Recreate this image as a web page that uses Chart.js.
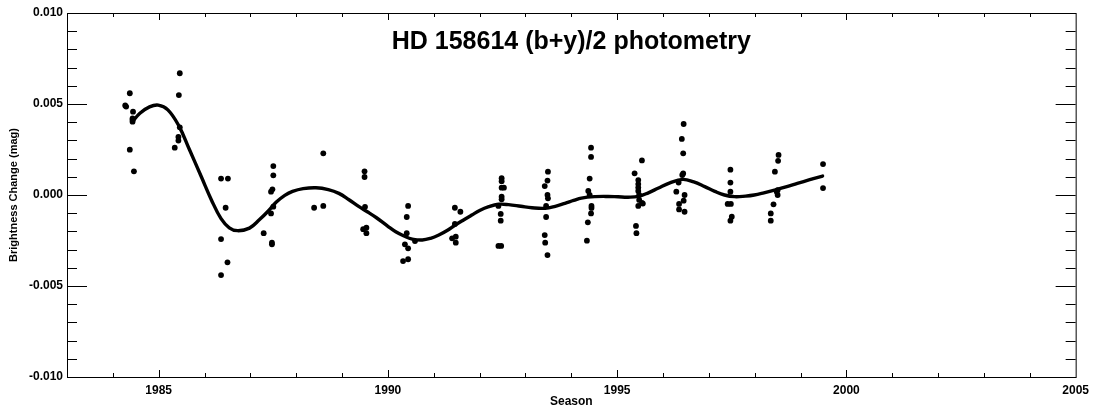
<!DOCTYPE html>
<html>
<head>
<meta charset="utf-8">
<title>HD 158614 (b+y)/2 photometry</title>
<script src="https://cdn.jsdelivr.net/npm/chart.js@4.4.1/dist/chart.umd.min.js"></script>
<style>
    html, body { margin: 0; padding: 0; background: #fff; }
    #chart { display: block; }
</style>
</head>
<body>
<canvas id="chart" width="1095" height="414"></canvas>
<script>
(function () {
    'use strict';

    // =========================================================================
    // Data
    // =========================================================================

    // Individual seasonal observations (year, mag)
    var obsYears = [
        1984.27, 1984.29, 1984.37, 1984.44, 1984.43, 1984.43, 1984.43, 1984.37, 1984.46,
        1985.46, 1985.44, 1985.46, 1985.43, 1985.43, 1985.35,
        1986.36, 1986.51, 1986.46, 1986.36, 1986.50, 1986.36,
        1987.50, 1987.50, 1987.48, 1987.45, 1987.50, 1987.45, 1987.29, 1987.47, 1987.47,
        1988.59, 1988.39, 1988.59,
        1989.49, 1989.49, 1989.46, 1989.53, 1989.53, 1989.50,
        1990.44, 1990.41, 1990.41, 1990.37, 1990.44, 1990.33, 1990.44, 1990.59,
        1991.46, 1991.58, 1991.46, 1991.40, 1991.48, 1991.48,
        1992.48, 1992.48, 1992.48, 1992.53, 1992.48, 1992.48, 1992.41, 1992.46, 1992.46, 1992.41, 1992.47,
        1993.49, 1993.48, 1993.42, 1993.48, 1993.49, 1993.45, 1993.45, 1993.42, 1993.43, 1993.48,
        1994.43, 1994.43, 1994.40, 1994.37, 1994.40, 1994.44, 1994.44, 1994.43, 1994.36, 1994.34,
        1995.54, 1995.38, 1995.46, 1995.46, 1995.46, 1995.46, 1995.48, 1995.48, 1995.54, 1995.46, 1995.56, 1995.41, 1995.42,
        1996.45, 1996.41, 1996.44, 1996.44, 1996.42, 1996.34, 1996.29, 1996.47, 1996.45, 1996.35, 1996.35, 1996.47,
        1997.47, 1997.47, 1997.47, 1997.41, 1997.48, 1997.50, 1997.47,
        1998.52, 1998.51, 1998.44, 1998.50, 1998.48, 1998.50, 1998.41, 1998.35, 1998.35,
        1999.49, 1999.49
    ];
    var obsMag = [
        0.00492, 0.00486, 0.00559, 0.00458, 0.00421, 0.00412, 0.00403, 0.00249, 0.00130,
        0.00669, 0.00549, 0.00372, 0.00319, 0.00299, 0.00260,
        0.00090, 0.00090, -0.00070, -0.00242, -0.00370, -0.00440,
        0.00159, 0.00108, 0.00031, 0.00018, -0.00064, -0.00101, -0.00210, -0.00262, -0.00271,
        0.00229, -0.00070, -0.00060,
        0.00130, 0.00099, -0.00188, -0.00180, -0.00210, -0.00065,
        -0.00060, -0.00121, -0.00210, -0.00271, -0.00293, -0.00363, -0.00353, -0.00253,
        -0.00070, -0.00092, -0.00159, -0.00238, -0.00229, -0.00262,
        0.00092, 0.00076, 0.00040, 0.00040, -0.00009, -0.00024, -0.00060, -0.00104, -0.00141, -0.00280, -0.00280,
        0.00128, 0.00079, 0.00049, 0.00000, -0.00018, -0.00060, -0.00121, -0.00220, -0.00262, -0.00330,
        0.00260, 0.00209, 0.00090, 0.00022, 0.00000, -0.00060, -0.00071, -0.00101, -0.00150, -0.00251,
        0.00190, 0.00119, 0.00082, 0.00060, 0.00041, 0.00022, 0.00000, -0.00027, -0.00044, -0.00060, -0.00047, -0.00170, -0.00210,
        0.00390, 0.00308, 0.00229, 0.00118, 0.00110, 0.00068, 0.00018, 0.00000, -0.00031, -0.00049, -0.00079, -0.00092,
        0.00139, 0.00068, 0.00018, -0.00049, -0.00049, -0.00119, -0.00141,
        0.00220, 0.00188, 0.00128, 0.00027, 0.00018, 0.00000, -0.00051, -0.00101, -0.00141,
        0.00170, 0.00038
    ];

    // Smoothed fit through the seasons
    var fitYears = [
        1984.42, 1984.59, 1984.80, 1984.99, 1985.20, 1985.44, 1985.67, 1985.93,
        1986.15, 1986.36, 1986.54, 1986.72, 1986.98, 1987.20, 1987.40, 1987.56,
        1987.75, 1987.92, 1988.15, 1988.43, 1988.70, 1988.93, 1989.15, 1989.37,
        1989.55, 1989.75, 1990.00, 1990.17, 1990.35, 1990.53, 1990.75, 1990.93,
        1991.11, 1991.30, 1991.47, 1991.65, 1991.83, 1992.00, 1992.20, 1992.41,
        1992.63, 1992.90, 1993.14, 1993.43, 1993.65, 1993.86, 1994.05, 1994.22,
        1994.52, 1994.80, 1995.02, 1995.24, 1995.46, 1995.68, 1995.89, 1996.15,
        1996.43, 1996.67, 1996.91, 1997.13, 1997.34, 1997.56, 1997.80, 1997.99,
        1998.20, 1998.43, 1998.70, 1998.93, 1999.20, 1999.48
    ];
    var fitMag = [
        0.00400, 0.00449, 0.00484, 0.00494, 0.00468, 0.00380, 0.00250, 0.00100,
        -0.00027, -0.00130, -0.00180, -0.00196, -0.00182, -0.00135, -0.00085, -0.00040,
        -0.00002, 0.00020, 0.00035, 0.00040, 0.00030, 0.00009, -0.00026, -0.00064,
        -0.00092, -0.00125, -0.00172, -0.00202, -0.00225, -0.00242, -0.00247, -0.00238,
        -0.00220, -0.00194, -0.00165, -0.00137, -0.00110, -0.00085, -0.00064, -0.00051,
        -0.00053, -0.00062, -0.00070, -0.00073, -0.00062, -0.00046, -0.00030, -0.00017,
        -0.00009, -0.00008, -0.00010, -0.00012, -0.00008, 0.00012, 0.00037, 0.00067,
        0.00086, 0.00072, 0.00046, 0.00020, 0.00000, -0.00009, -0.00006, 0.00000,
        0.00012, 0.00027, 0.00046, 0.00064, 0.00084, 0.00104
    ];

    var xTickLabels = [1985, 1990, 1995, 2000, 2005];
    var yTickLabels = [-0.010, -0.005, 0.000, 0.005, 0.010];

    var FONT = '"Liberation Sans", Arial, Helvetica, sans-serif';

    function toPoints(xs, ys) {
        return xs.map(function (x, i) { return { x: x, y: ys[i] }; });
    }

    // =========================================================================
    // Frame, inward ticks and title
    // =========================================================================

    var frameAndTitle = {
        id: 'frameAndTitle',
        afterDraw: function (chart) {
            var ctx = chart.ctx;
            var area = chart.chartArea;
            var xs = chart.scales.x;
            var ys = chart.scales.y;
            var i, px, py, len;

            ctx.save();
            ctx.strokeStyle = '#000';
            ctx.lineWidth = 1;

            ctx.strokeRect(area.left + 0.5, area.top + 0.5,
                area.right - area.left, area.bottom - area.top);

            ctx.beginPath();
            // one tick per year, longer every five
            for (i = 1984; i < 2005; i++) {
                px = Math.round(xs.getPixelForValue(i)) + 0.5;
                len = (i % 5 === 0) ? 7 : 4;
                ctx.moveTo(px, area.bottom);
                ctx.lineTo(px, area.bottom - len);
                ctx.moveTo(px, area.top);
                ctx.lineTo(px, area.top + len);
            }
            // one tick per 0.001 mag, longer every 0.005
            for (i = -9; i < 10; i++) {
                py = Math.round(ys.getPixelForValue(i / 1000)) + 0.5;
                len = (i % 5 === 0) ? 20 : 10;
                ctx.moveTo(area.left, py);
                ctx.lineTo(area.left + len, py);
                ctx.moveTo(area.right, py);
                ctx.lineTo(area.right - len, py);
            }
            ctx.stroke();

            ctx.fillStyle = '#000';
            ctx.font = 'bold 25px ' + FONT;
            ctx.textAlign = 'center';
            ctx.textBaseline = 'alphabetic';
            ctx.fillText('HD 158614 (b+y)/2 photometry', (area.left + area.right) / 2, 49);
            ctx.restore();
        }
    };

    // =========================================================================
    // Chart
    // =========================================================================

    new Chart(document.getElementById('chart'), {
        type: 'scatter',
        data: {
            datasets: [{
                label: 'fit',
                data: toPoints(fitYears, fitMag),
                showLine: true,
                borderColor: '#000',
                borderWidth: 3.4,
                tension: 0.4,
                borderCapStyle: 'round',
                borderJoinStyle: 'round',
                pointRadius: 0,
                fill: false
            }, {
                label: 'observations',
                data: toPoints(obsYears, obsMag),
                backgroundColor: '#000',
                borderColor: '#000',
                borderWidth: 0,
                pointRadius: 2.9
            }]
        },
        options: {
            responsive: false,
            animation: false,
            devicePixelRatio: 1,
            layout: { padding: { top: 13, right: 17, left: 0, bottom: 0 } },
            plugins: {
                legend: { display: false },
                tooltip: { enabled: false }
            },
            scales: {
                x: {
                    type: 'linear',
                    min: 1983,
                    max: 2005,
                    afterBuildTicks: function (scale) {
                        scale.ticks = xTickLabels.map(function (v) { return { value: v }; });
                    },
                    afterFit: function (scale) { scale.height = 37; },
                    grid: { display: false, drawTicks: false },
                    border: { display: false },
                    ticks: {
                        padding: 6,
                        maxRotation: 0,
                        color: '#000',
                        font: { family: FONT, size: 12, weight: 'bold' },
                        callback: function (v) { return String(v); }
                    },
                    title: {
                        display: true,
                        text: 'Season',
                        color: '#000',
                        padding: { top: 0, bottom: 5 },
                        font: { family: FONT, size: 12, weight: 'bold' }
                    }
                },
                y: {
                    type: 'linear',
                    min: -0.010,
                    max: 0.010,
                    afterBuildTicks: function (scale) {
                        scale.ticks = yTickLabels.map(function (v) { return { value: v }; });
                    },
                    afterFit: function (scale) { scale.width = 67; },
                    grid: { display: false, drawTicks: false },
                    border: { display: false },
                    ticks: {
                        padding: 4,
                        color: '#000',
                        font: { family: FONT, size: 12, weight: 'bold' },
                        callback: function (v) { return v.toFixed(3); }
                    },
                    title: {
                        display: true,
                        text: 'Brightness Change (mag)',
                        color: '#000',
                        padding: { top: 7, bottom: 0 },
                        font: { family: FONT, size: 11, weight: 'bold' }
                    }
                }
            }
        },
        plugins: [frameAndTitle]
    });
})();
</script>
</body>
</html>
